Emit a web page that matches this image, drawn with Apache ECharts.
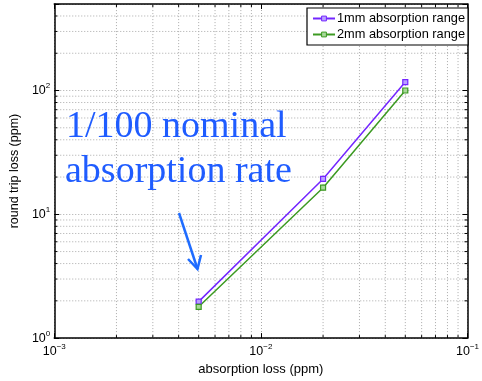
<!DOCTYPE html>
<html>
<head>
<meta charset="utf-8">
<script src="https://cdn.jsdelivr.net/npm/echarts@6/dist/echarts.min.js"></script>
<style>html,body{margin:0;padding:0;background:#fff}#c{width:482px;height:381px}</style>
</head>
<body>
<div id="c"></div>
<script>
// ---- data ----
const absorptionLoss = [0.005, 0.02, 0.05];
const loss1mm = [1.97, 19.3, 117];
const loss2mm = [1.79, 16.4, 100];
const seriesNames = ['1mm absorption range', '2mm absorption range'];
const xMinor = [0.002,0.003,0.004,0.005,0.006,0.007,0.008,0.009,0.02,0.03,0.04,0.05,0.06,0.07,0.08,0.09];
const yMinor = [2,3,4,5,6,7,8,9,20,30,40,50,60,70,80,90,200,300,400];
const xRange = [0.001, 0.1];
const yRange = [1, 500];
const annotationLines = ['1/100 nominal', 'absorption rate'];

const FONT = 'Liberation Sans, Arial, Helvetica, sans-serif';
const purple = '#7326ff';
const green = '#3c9a22';
const gridColor = '#aaaaaa';

function powLabel(v) {
  const e = Math.log10(v);
  const r = Math.round(e);
  if (Math.abs(e - r) > 1e-6) return '';
  return '{b|10}{e|' + (r < 0 ? '\u2212' + (-r) : r) + '}';
}
const rich = {
  b: {fontSize: 12.5, fontFamily: FONT, color: '#000'},
  e: {fontSize: 8, fontFamily: FONT, color: '#000', padding: [0, 0, 9, 0]}
};

const chart = echarts.init(document.getElementById('c'), null, {renderer: 'canvas'});

function minorX(params, api) {
  const x = api.value(0);
  const p0 = api.coord([x, yRange[0]]);
  const p1 = api.coord([x, yRange[1]]);
  return {type: 'group', children: [
    {type: 'line', shape: {x1: p0[0], y1: p0[1], x2: p1[0], y2: p1[1]},
     style: {stroke: gridColor, lineWidth: 1, lineDash: [1, 2]}},
    {type: 'line', shape: {x1: p0[0], y1: p0[1], x2: p0[0], y2: p0[1] - 3},
     style: {stroke: '#000', lineWidth: 1}},
    {type: 'line', shape: {x1: p1[0], y1: p1[1], x2: p1[0], y2: p1[1] + 3},
     style: {stroke: '#000', lineWidth: 1}}
  ]};
}
function minorY(params, api) {
  const y = api.value(1);
  const p0 = api.coord([xRange[0], y]);
  const p1 = api.coord([xRange[1], y]);
  return {type: 'group', children: [
    {type: 'line', shape: {x1: p0[0], y1: p0[1], x2: p1[0], y2: p1[1]},
     style: {stroke: gridColor, lineWidth: 1, lineDash: [1, 2]}},
    {type: 'line', shape: {x1: p0[0], y1: p0[1], x2: p0[0] + 3, y2: p0[1]},
     style: {stroke: '#000', lineWidth: 1}},
    {type: 'line', shape: {x1: p1[0], y1: p1[1], x2: p1[0] - 3, y2: p1[1]},
     style: {stroke: '#000', lineWidth: 1}}
  ]};
}

const axisCommon = {
  type: 'log', logBase: 10,
  axisLine: {show: true, onZero: false, lineStyle: {color: '#000', width: 1.5}},
  axisTick: {show: true, inside: true, length: 5, lineStyle: {color: '#000', width: 1}},
  splitLine: {show: false},
  minorTick: {show: false}
};

chart.setOption({
  animation: false,
  backgroundColor: '#fff',
  grid: {left: 50, right: 12, top: 4, bottom: 40, containLabel: false},
  xAxis: [
    Object.assign({}, axisCommon, {
      position: 'bottom', min: xRange[0], max: xRange[1],
      name: 'absorption loss (ppm)', nameLocation: 'middle', nameGap: 24,
      nameTextStyle: {fontSize: 13, fontFamily: FONT, color: '#000'},
      axisLabel: {formatter: powLabel, rich: rich, margin: 5},
      splitLine: {show: true, lineStyle: {color: gridColor, type: [1, 2], width: 1}}
    }),
    Object.assign({}, axisCommon, {
      position: 'top', min: xRange[0], max: xRange[1], axisLabel: {show: false}
    })
  ],
  yAxis: [
    Object.assign({}, axisCommon, {
      position: 'left', min: yRange[0], max: yRange[1],
      name: 'round trip loss (ppm)', nameLocation: 'middle', nameGap: 25,
      nameTextStyle: {fontSize: 12.5, fontFamily: FONT, color: '#000'},
      axisLabel: {formatter: powLabel, rich: rich, margin: 4},
      splitLine: {show: true, lineStyle: {color: gridColor, type: [1, 2], width: 1}}
    }),
    Object.assign({}, axisCommon, {
      position: 'right', min: yRange[0], max: yRange[1], axisLabel: {show: false}
    })
  ],
  legend: {
    data: seriesNames,
    orient: 'vertical',
    left: 307, top: 8,
    padding: [4, 3, 4, 5],
    itemGap: 3,
    itemWidth: 22, itemHeight: 6,
    backgroundColor: '#fff',
    borderColor: '#000', borderWidth: 1.2,
    itemStyle: {borderWidth: 1},
    textStyle: {fontSize: 12.8, fontFamily: FONT, color: '#000', padding: [0, 0, 0, -3]}
  },
  graphic: [
    {type: 'text', left: 66, top: 108, z: 50,
     style: {text: annotationLines[0], font: '38px "Liberation Serif", "Times New Roman", serif', fill: '#1f5cff'}},
    {type: 'text', left: 65, top: 153, z: 50,
     style: {text: annotationLines[1], font: '38px "Liberation Serif", "Times New Roman", serif', fill: '#1f5cff'}},
    {type: 'polyline', z: 50, shape: {points: [[179, 213], [197.5, 269]]},
     style: {stroke: '#1f6cff', lineWidth: 2.5, fill: null}},
    {type: 'polyline', z: 50, shape: {points: [[188, 259], [197.5, 269], [201, 255]]},
     style: {stroke: '#1f6cff', lineWidth: 2.5, fill: null, lineJoin: 'miter'}}
  ],
  series: [
    {type: 'custom', name: 'minorX', renderItem: minorX, silent: true, z: 1,
     data: xMinor.map(v => [v, yRange[0]]), xAxisIndex: 0, yAxisIndex: 0},
    {type: 'custom', name: 'minorY', renderItem: minorY, silent: true, z: 1,
     data: yMinor.map(v => [xRange[0], v]), xAxisIndex: 0, yAxisIndex: 0},
    {type: 'line', name: seriesNames[0], xAxisIndex: 0, yAxisIndex: 0, z: 5,
     data: absorptionLoss.map((x, i) => [x, loss1mm[i]]),
     symbol: 'rect', symbolSize: 5, showAllSymbol: true,
     lineStyle: {color: purple, width: 1.5},
     itemStyle: {color: '#b9a0ff', borderColor: purple, borderWidth: 1.2}},
    {type: 'line', name: seriesNames[1], xAxisIndex: 0, yAxisIndex: 0, z: 5,
     data: absorptionLoss.map((x, i) => [x, loss2mm[i]]),
     symbol: 'rect', symbolSize: 5, showAllSymbol: true,
     lineStyle: {color: green, width: 1.5},
     itemStyle: {color: '#a8d89a', borderColor: green, borderWidth: 1.2}}
  ]
});
</script>
</body>
</html>
